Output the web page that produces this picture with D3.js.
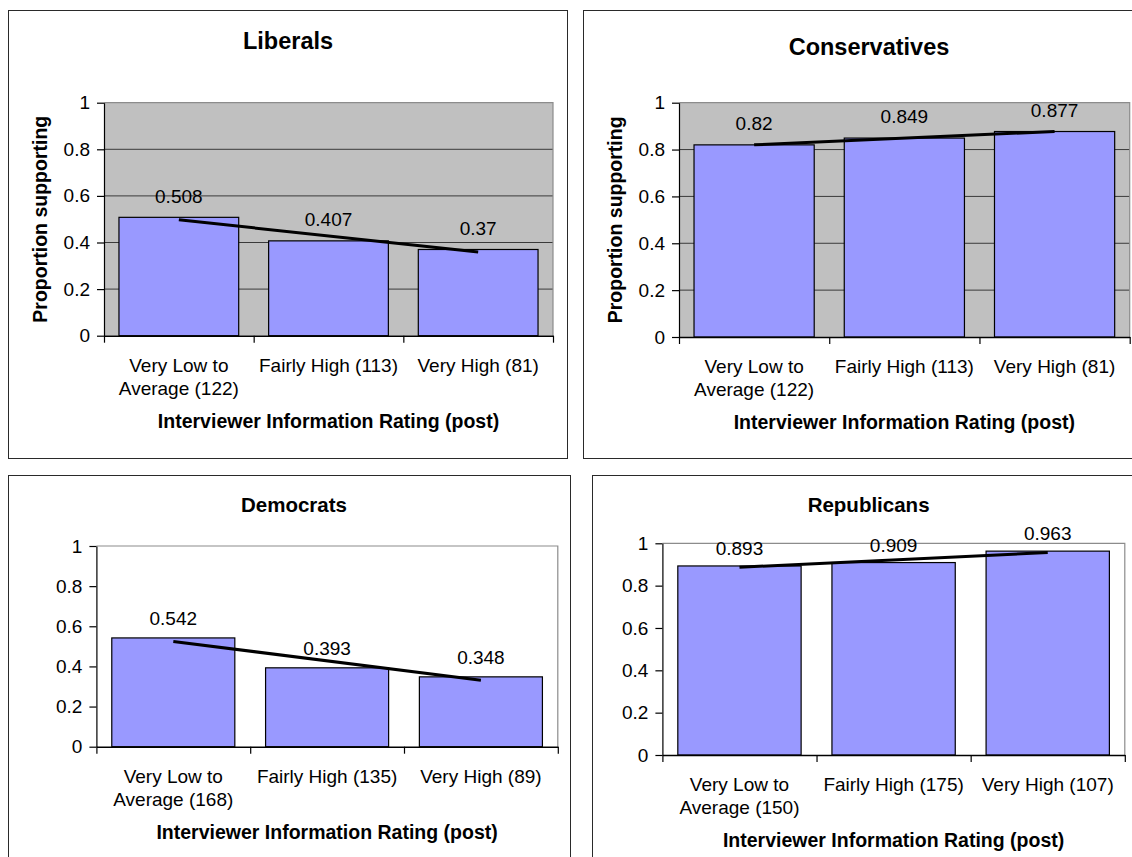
<!DOCTYPE html>
<html>
<head>
<meta charset="utf-8">
<script src="https://cdn.jsdelivr.net/npm/d3@7"></script>
<style>
  body { margin: 0; background: #fff; }
  svg text { font-family: "Liberation Sans", Arial, sans-serif; fill: #000; }
</style>
</head>
<body>
<svg id="chart" width="1132" height="857"></svg>
<script>
// ---------- DATA ----------
const panelTitles = ["Liberals", "Conservatives", "Democrats", "Republicans"];

const liberalsCategories = [["Very Low to", "Average (122)"], ["Fairly High (113)"], ["Very High (81)"]];
const liberalsValues = [0.508, 0.407, 0.37];

const conservativesCategories = [["Very Low to", "Average (122)"], ["Fairly High (113)"], ["Very High (81)"]];
const conservativesValues = [0.82, 0.849, 0.877];

const democratsCategories = [["Very Low to", "Average (168)"], ["Fairly High (135)"], ["Very High (89)"]];
const democratsValues = [0.542, 0.393, 0.348];

const republicansCategories = [["Very Low to", "Average (150)"], ["Fairly High (175)"], ["Very High (107)"]];
const republicansValues = [0.893, 0.909, 0.963];

const valueLabels = [
  ["0.508", "0.407", "0.37"],
  ["0.82", "0.849", "0.877"],
  ["0.542", "0.393", "0.348"],
  ["0.893", "0.909", "0.963"]
];

const yTickValues = [0, 0.2, 0.4, 0.6, 0.8, 1];
const yTickLabels = ["0", "0.2", "0.4", "0.6", "0.8", "1"];
const xAxisTitle = "Interviewer Information Rating (post)";
const yAxisTitle = "Proportion supporting";

// ---------- LAYOUT (positions/styles only) ----------
const layout = [
  { box: [8, 10, 567, 458], plot: [104, 102.7, 553, 335.7], tx: 288, ty: 49.3, tsize: 23.5, gray: true, ytitle: true, gap: 14.5 },
  { box: [583, 10, 1155, 458], plot: [679, 102.7, 1129.7, 337], tx: 869, ty: 55, tsize: 23.5, gray: true, ytitle: true, gap: 15 },
  { box: [8, 475, 570, 900], plot: [96.4, 546, 557.8, 746.7], tx: 294, ty: 512, tsize: 20.5, gray: false, ytitle: false, gap: 13 },
  { box: [592, 475, 1145, 900], plot: [662.4, 543.3, 1124.8, 755], tx: 868.6, ty: 512, tsize: 20.5, gray: false, ytitle: false, gap: 11 }
];

const panelCategories = [liberalsCategories, conservativesCategories, democratsCategories, republicansCategories];
const panelValues = [liberalsValues, conservativesValues, democratsValues, republicansValues];

const FS = 19;
const svg = d3.select("#chart");

panelTitles.forEach((title, p) => {
  const L = layout[p];
  const [l, t, r, b] = L.plot;
  const cats = panelCategories[p];
  const vals = panelValues[p];
  const g = svg.append("g");

  // panel border
  g.append("rect")
    .attr("x", L.box[0] + 0.5).attr("y", L.box[1] + 0.5)
    .attr("width", L.box[2] - L.box[0]).attr("height", L.box[3] - L.box[1])
    .attr("fill", "#fff").attr("stroke", "#2a2a2a").attr("stroke-width", 1);

  const x = d3.scaleBand().domain(d3.range(vals.length)).range([l, r]).paddingInner(0.2).paddingOuter(0.1);
  const xb = d3.scaleLinear().domain([0, vals.length]).range([l, r]);
  const y = d3.scaleLinear().domain([0, 1]).range([b, t]);

  // plot area
  if (L.gray) {
    g.append("rect").attr("x", l).attr("y", y(1)).attr("width", r - l).attr("height", y(0) - y(1)).attr("fill", "#C0C0C0");
    g.selectAll(".grid").data(yTickValues.filter(v => v > 0 && v < 1)).join("line")
      .attr("x1", l).attr("x2", r).attr("y1", d => y(d)).attr("y2", d => y(d))
      .attr("stroke", "#3a3a3a").attr("stroke-width", 1);
  }
  // plot border top & right
  g.append("path")
    .attr("d", `M${l},${y(1)}H${r}V${y(0)}`)
    .attr("fill", "none").attr("stroke", "#8c8c8c").attr("stroke-width", 1.2);

  // bars
  g.selectAll(".bar").data(vals).join("rect")
    .attr("x", (d, i) => x(i)).attr("y", d => y(d))
    .attr("width", x.bandwidth()).attr("height", d => y(0) - y(d))
    .attr("fill", "#9999FF").attr("stroke", "#000").attr("stroke-width", 1.2);

  // linear trendline
  const n = vals.length;
  const xs = d3.range(1, n + 1);
  const mx = d3.mean(xs), my = d3.mean(vals);
  const slope = d3.sum(xs.map((xi, i) => (xi - mx) * (vals[i] - my))) / d3.sum(xs.map(xi => (xi - mx) ** 2));
  const icpt = my - slope * mx;
  const trend = [0, n - 1].map(i => [x(i) + x.bandwidth() / 2, y(icpt + slope * (i + 1))]);
  g.append("path").attr("d", d3.line()(trend))
    .attr("stroke", "#000").attr("stroke-width", 3).attr("fill", "none");

  // data labels
  g.selectAll(".lbl").data(vals).join("text")
    .attr("x", (d, i) => x(i) + x.bandwidth() / 2)
    .attr("y", d => y(d) - L.gap)
    .attr("text-anchor", "middle")
    .style("font-size", FS + "px")
    .text((d, i) => valueLabels[p][i]);

  // y axis
  const yAxis = d3.axisLeft(y).tickValues(yTickValues)
    .tickFormat((d, i) => yTickLabels[i]).tickSize(7).tickPadding(7).tickSizeOuter(0);
  const ya = g.append("g").attr("transform", `translate(${l},0)`).call(yAxis);
  ya.select(".domain").attr("stroke", "#000").attr("stroke-width", 1.2);
  ya.selectAll(".tick line").attr("stroke", "#000").attr("stroke-width", 1.2);
  ya.selectAll(".tick text").style("font-size", FS + "px")
    .attr("font-family", null).attr("fill", "#000");

  // x axis (boundary ticks)
  const xAxis = d3.axisBottom(xb).tickValues(d3.range(0, n + 1)).tickFormat("").tickSize(7).tickSizeOuter(0);
  const xa = g.append("g").attr("transform", `translate(0,${b})`).call(xAxis);
  xa.select(".domain").attr("stroke", "#000").attr("stroke-width", 1.4);
  xa.selectAll(".tick line").attr("stroke", "#000").attr("stroke-width", 1.2);

  // category labels
  cats.forEach((lines, i) => {
    lines.forEach((ln, k) => {
      g.append("text")
        .attr("x", x(i) + x.bandwidth() / 2)
        .attr("y", b + 36 + k * 23.3)
        .attr("text-anchor", "middle")
        .style("font-size", FS + "px")
        .text(ln);
    });
  });

  // x axis title
  g.append("text")
    .attr("x", (l + r) / 2).attr("y", b + 92)
    .attr("text-anchor", "middle")
    .style("font-size", "19.5px").style("font-weight", "bold")
    .text(xAxisTitle);

  // y axis title
  if (L.ytitle) {
    g.append("text")
      .attr("transform", `translate(${l - 57.5},${(t + b) / 2}) rotate(-90)`)
      .attr("text-anchor", "middle")
      .style("font-size", "19.5px").style("font-weight", "bold")
      .text(yAxisTitle);
  }

  // chart title
  g.append("text")
    .attr("x", L.tx).attr("y", L.ty)
    .attr("text-anchor", "middle")
    .style("font-size", L.tsize + "px").style("font-weight", "bold")
    .text(title);
});
</script>
</body>
</html>
